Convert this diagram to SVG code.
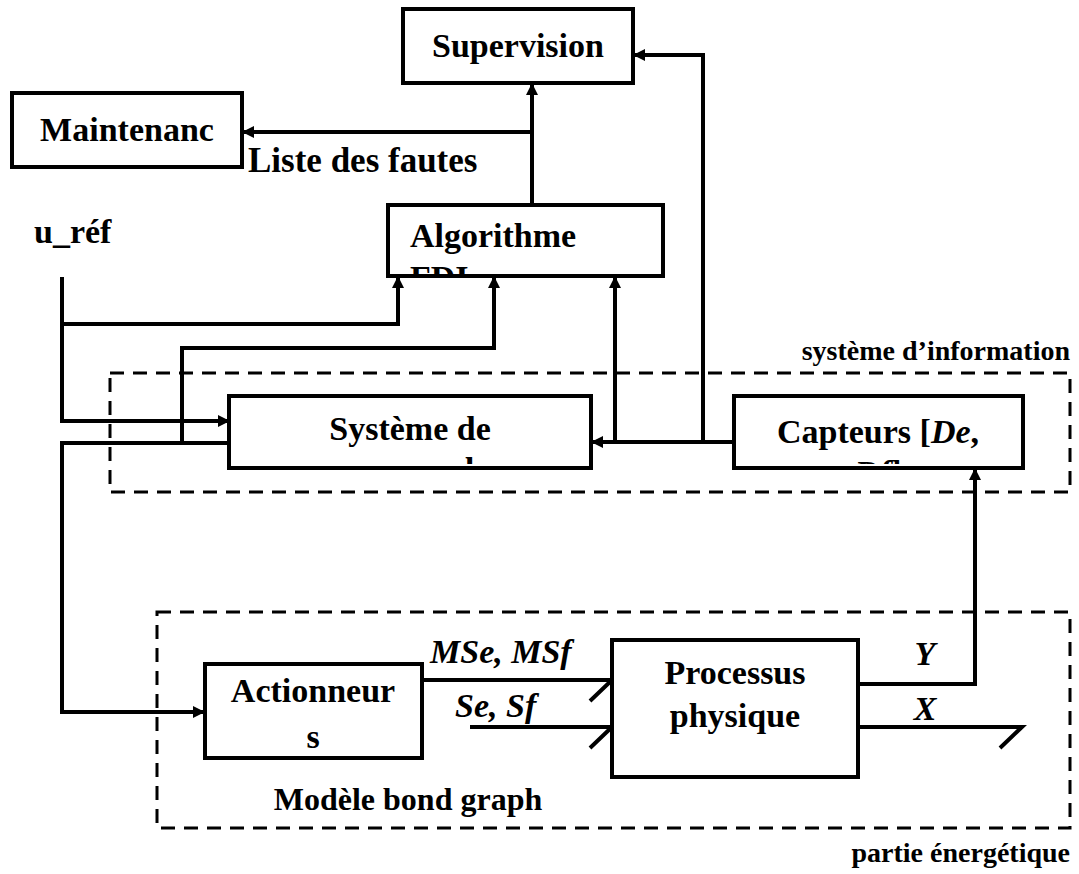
<svg xmlns="http://www.w3.org/2000/svg" width="1079" height="874" viewBox="0 0 1079 874">
  <style>
    .box { fill: #fff; stroke: #000; stroke-width: 4; }
    .wire { fill: none; stroke: #000; stroke-width: 4; stroke-linejoin: miter; }
    .frame { fill: none; stroke: #000; stroke-width: 3; stroke-dasharray: 14 9; }
    .t { font-family: "Liberation Serif", "Times New Roman", serif; font-weight: bold; font-size: 34px; fill: #000; }
    .s { font-family: "Liberation Serif", "Times New Roman", serif; font-weight: bold; font-size: 28px; fill: #000; }
    .i { font-style: italic; }
    .mid { text-anchor: middle; }
    .end { text-anchor: end; }
  </style>
  <defs>
    <marker id="arrow" viewBox="0 0 12 12" refX="12" refY="6" markerWidth="14" markerHeight="12" markerUnits="userSpaceOnUse" orient="auto">
      <path d="M0,0 L12,6 L0,12 z" fill="#000"/>
    </marker>
    <clipPath id="clipAlgo"><rect x="390" y="207" width="271" height="67"/></clipPath>
    <clipPath id="clipSys"><rect x="231" y="398" width="358" height="66"/></clipPath>
    <clipPath id="clipCapt"><rect x="736" y="398" width="285" height="66"/></clipPath>
  </defs>

  <!-- dashed frames -->
  <g id="frames">
    <rect class="frame" x="110" y="373" width="960" height="119"/>
    <rect class="frame" x="157" y="612" width="913" height="216"/>
  </g>

  <!-- connectors -->
  <g id="connectors">
    <path class="wire" d="M532,205 V83" marker-end="url(#arrow)"/>
    <path class="wire" d="M532,132 H242" marker-end="url(#arrow)"/>
    <path class="wire" d="M62,277 V421 H230" marker-end="url(#arrow)"/>
    <path class="wire" d="M62,324 H398 V276" marker-end="url(#arrow)"/>
    <path class="wire" d="M182,443 V348 H494 V276" marker-end="url(#arrow)"/>
    <path class="wire" d="M230,443 H62 V712 H205" marker-end="url(#arrow)"/>
    <path class="wire" d="M734,442 H591" marker-end="url(#arrow)"/>
    <path class="wire" d="M615,442 V276" marker-end="url(#arrow)"/>
    <path class="wire" d="M703,442 V55 H633" marker-end="url(#arrow)"/>
    <path class="wire" d="M858,684 H975 V468" marker-end="url(#arrow)"/>
    <!-- bonds with half arrows -->
    <path class="wire" d="M422,680 H612 L590,701"/>
    <path class="wire" d="M470,727 H612 L590,748"/>
    <path class="wire" d="M858,727 H1022 L1000,748"/>
  </g>

  <g id="supervision">
    <rect class="box" x="403" y="9" width="230" height="74"/>
    <text class="t mid" x="518" y="57">Supervision</text>
  </g>

  <g id="maintenance">
    <rect class="box" x="12" y="93" width="230" height="74"/>
    <text class="t mid" x="127" y="141">Maintenanc</text>
  </g>

  <g id="algorithme">
    <rect class="box" x="388" y="205" width="275" height="71"/>
    <text class="t" x="410" y="247">Algorithme</text>
    <text class="t" x="410" y="289" clip-path="url(#clipAlgo)">FDI</text>
  </g>

  <g id="systeme-commande">
    <rect class="box" x="229" y="396" width="362" height="72"/>
    <text class="t mid" x="410" y="440">Système de</text>
    <text class="t mid" x="410" y="481" clip-path="url(#clipSys)">commande</text>
  </g>

  <g id="capteurs">
    <rect class="box" x="734" y="396" width="289" height="72"/>
    <text class="t mid" x="878" y="443">Capteurs [<tspan class="i">De</tspan>,</text>
    <text class="t mid" x="878" y="484" clip-path="url(#clipCapt)"><tspan class="i">Df</tspan>]</text>
  </g>

  <g id="actionneurs">
    <rect class="box" x="205" y="664" width="217" height="94"/>
    <text class="t mid" x="313" y="702">Actionneur</text>
    <text class="t mid" x="313" y="748">s</text>
  </g>

  <g id="processus">
    <rect class="box" x="612" y="640" width="246" height="137"/>
    <text class="t mid" x="735" y="684">Processus</text>
    <text class="t mid" x="735" y="727">physique</text>
  </g>

  <!-- labels -->
  <g id="labels">
    <text class="t" x="248" y="172" style="font-size:35px">Liste des fautes</text>
    <text class="t" x="34" y="243">u_réf</text>
    <text class="s end" x="1070" y="360">système d’information</text>
    <text class="t i" x="430" y="663">MSe, MSf</text>
    <text class="t i" x="455" y="717">Se, Sf</text>
    <text class="t i mid" x="925" y="665">Y</text>
    <text class="t i mid" x="925" y="720">X</text>
    <text class="t mid" x="408" y="810" style="font-size:32px">Modèle bond graph</text>
    <text class="s end" x="1070" y="862">partie  énergétique</text>
  </g>
</svg>
